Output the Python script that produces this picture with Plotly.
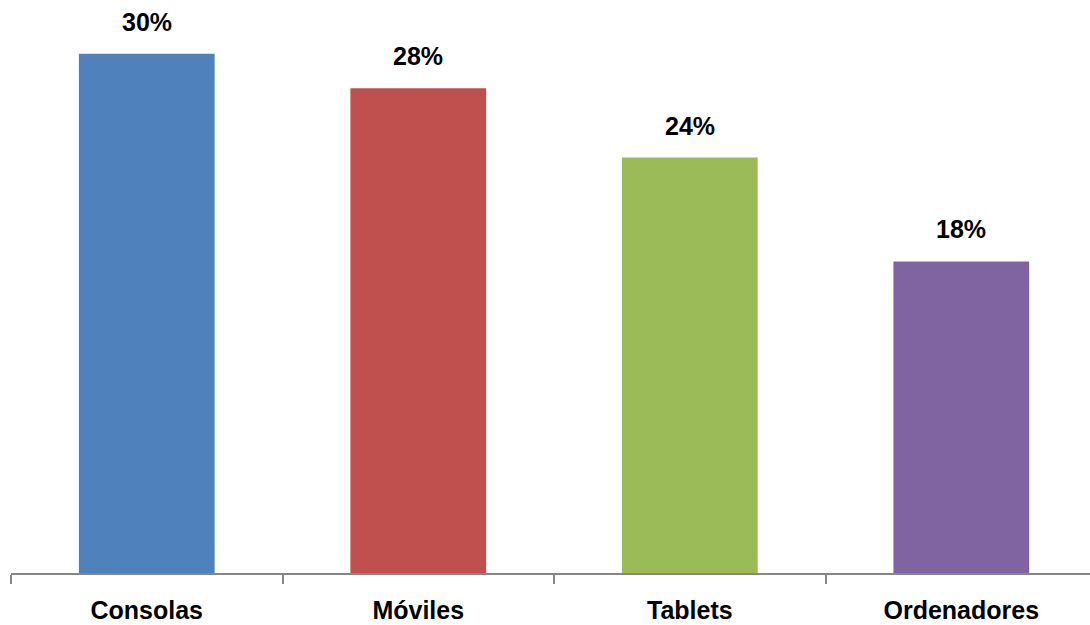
import plotly.graph_objects as go

categories = ["Consolas", "Móviles", "Tablets", "Ordenadores"]
values = [30, 28, 24, 18]
labels = ["30%", "28%", "24%", "18%"]
colors = ["#4F81BD", "#C0504D", "#9BBB59", "#8064A2"]

FONT = "Liberation Sans Narrow, Arial Narrow, Liberation Sans, Arial, sans-serif"

fig = go.Figure(
    go.Bar(
        x=categories,
        y=values,
        marker=dict(color=colors, line=dict(width=0)),
        width=0.5,
        hoverinfo="skip",
    )
)

for cat, val, lab in zip(categories, values, labels):
    fig.add_annotation(
        x=cat, y=val, text=f"<b>{lab}</b>", showarrow=False,
        yanchor="bottom", yshift=16,
        font=dict(family=FONT, size=25, color="#000000"),
    )

fig.update_layout(
    width=1090, height=625,
    margin=dict(l=11, r=0, t=0, b=52),
    paper_bgcolor="white", plot_bgcolor="white",
    showlegend=False,
    xaxis=dict(
        range=[-0.5, 3.474],
        showline=True, linecolor="#868686", linewidth=2,
        ticks="outside", tickson="boundaries", ticklen=9,
        tickcolor="#868686", tickwidth=2,
        ticklabelstandoff=14,
        tickfont=dict(family=FONT, size=25, color="#000000"),
        tickvals=categories,
        ticktext=[f"<b>{c}</b>" for c in categories],
        showgrid=False, zeroline=False,
    ),
    yaxis=dict(
        range=[0, 33.1], visible=False, showgrid=False, zeroline=False,
    ),
)

fig.write_html("out.html")
